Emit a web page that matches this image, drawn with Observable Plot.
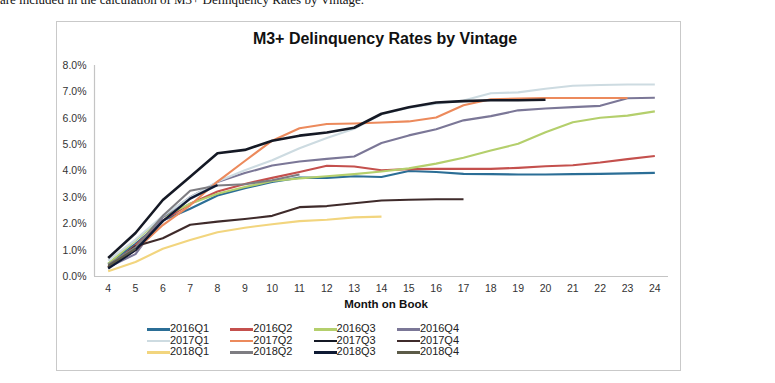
<!DOCTYPE html>
<html>
<head>
<meta charset="utf-8">
<script src="https://cdn.jsdelivr.net/npm/d3@7"></script>
<script src="https://cdn.jsdelivr.net/npm/@observablehq/plot@0.6"></script>
<style>
  html, body { margin: 0; padding: 0; background: #fff; }
  #wrap { position: relative; width: 775px; height: 383px; overflow: hidden; font-family: "Liberation Sans", Arial, sans-serif; }
  #toptext { position: absolute; left: 0; top: -8px; font-family: "Liberation Serif", "Times New Roman", serif; font-size: 13px; color: #111; white-space: nowrap; }
  #frame { position: absolute; left: 56px; top: 21px; width: 623px; height: 348px; border: 1px solid #c9c9c9; }
  #title { position: absolute; left: 85px; width: 600px; top: 30px; text-align: center; font-weight: bold; font-size: 16px; color: #111; }
  #xlabel { position: absolute; left: 56px; width: 660px; top: 298px; text-align: center; font-weight: bold; font-size: 11.5px; color: #111; }
  #chart { position: absolute; left: 0; top: 0; }
  #legend { position: absolute; left: 0; top: 0; }
  .item { position: absolute; height: 12px; font-size: 11px; color: #222; white-space: nowrap; }
  .item .sw { position: absolute; left: 0; top: 5px; width: 23px; height: 2.5px; }
  .item span.t { position: absolute; left: 23px; top: -1px; }
</style>
</head>
<body>
<div id="wrap">
  <div id="toptext">are included in the calculation of M3+ Delinquency Rates by Vintage.</div>
  <div id="frame"></div>
  <div id="title">M3+ Delinquency Rates by Vintage</div>
  <div id="chart"></div>
  <div id="xlabel">Month on Book</div>
  <div id="legend"></div>
</div>
<script>
// Month on book (x categories)
const months = [4,5,6,7,8,9,10,11,12,13,14,15,16,17,18,19,20,21,22,23,24];
const yTicks = [0,1,2,3,4,5,6,7,8];

// Series names and colours
const vintages = ["2016Q1","2016Q2","2016Q3","2016Q4","2017Q1","2017Q2","2017Q3","2017Q4","2018Q1","2018Q2","2018Q3","2018Q4"];
const colors = ["#2b6e96","#c4504d","#b4cf6c","#7b7797","#cddbe1","#ec8a5c","#151925","#3f2b2b","#f2d57e","#7e7d82","#0f1a34","#5c5b48"];

// Delinquency rate (%) per vintage, starting at month 4
const v2016Q1 = [0.48,1.24,2.12,2.57,3.07,3.35,3.58,3.75,3.74,3.80,3.77,4.00,3.96,3.89,3.88,3.87,3.87,3.88,3.89,3.91,3.93];
const v2016Q2 = [0.35,1.18,2.12,2.76,3.22,3.51,3.74,3.96,4.20,4.17,4.03,4.07,4.08,4.08,4.08,4.12,4.18,4.22,4.32,4.45,4.57];
const v2016Q3 = [0.48,1.37,2.25,2.76,3.14,3.39,3.62,3.72,3.80,3.88,3.98,4.10,4.28,4.50,4.78,5.03,5.47,5.85,6.02,6.10,6.26];
const v2016Q4 = [0.35,0.85,2.25,3.01,3.58,3.92,4.21,4.36,4.46,4.55,5.06,5.35,5.58,5.92,6.08,6.30,6.37,6.42,6.47,6.76,6.78];
const v2017Q1 = [0.60,1.40,2.30,3.00,3.60,4.03,4.41,4.86,5.25,5.60,6.15,6.40,6.55,6.67,6.95,6.98,7.12,7.23,7.26,7.28,7.28];
const v2017Q2 = [0.35,1.00,1.95,2.70,3.60,4.38,5.15,5.62,5.78,5.80,5.84,5.88,6.03,6.49,6.72,6.75,6.77,6.77,6.77,6.77];
const v2017Q3 = [0.70,1.65,2.90,3.78,4.67,4.80,5.15,5.34,5.46,5.64,6.17,6.42,6.60,6.65,6.68,6.68,6.70];
const v2017Q4 = [0.35,1.15,1.45,1.96,2.08,2.18,2.30,2.63,2.67,2.78,2.88,2.91,2.93,2.93];
const v2018Q1 = [0.20,0.55,1.05,1.38,1.68,1.85,1.98,2.10,2.15,2.24,2.27];
const v2018Q2 = [0.45,1.10,2.30,3.25,3.45,3.50,3.65,3.87];
const v2018Q3 = [0.30,1.00,2.10,2.95,3.47];
const v2018Q4 = [0.40,1.05];

const seriesValues = [v2016Q1,v2016Q2,v2016Q3,v2016Q4,v2017Q1,v2017Q2,v2017Q3,v2017Q4,v2018Q1,v2018Q2,v2018Q3,v2018Q4];

const rows = [];
seriesValues.forEach((vals, i) => {
  vals.forEach((v, j) => rows.push({vintage: vintages[i], month: months[j], rate: v}));
});

const lineWidth = {"2017Q3": 2.6, "2018Q3": 2.4};

const chart = Plot.plot({
  width: 775,
  height: 383,
  marginLeft: 94,
  marginRight: 107,
  marginTop: 65,
  marginBottom: 107,
  style: {background: "transparent", fontFamily: "'Liberation Sans', Arial, sans-serif", fontSize: "10.5px", color: "#333"},
  x: {type: "linear", domain: [3.5, 24.5]},
  y: {domain: [0, 8]},
  color: {domain: vintages, range: colors},
  marks: [
    Plot.axisX(months, {tickSize: 0, tickPadding: 8, tickFormat: d => String(d), label: null, fontSize: 10.5, fill: "#333"}),
    Plot.axisY(yTicks, {tickSize: 0, tickPadding: 8, tickFormat: d => d.toFixed(1) + "%", label: null, fontSize: 10.5, fill: "#333"}),
    Plot.ruleX([3.5], {y1: 0, y2: 8, stroke: "#c4c4c4", strokeWidth: 1.2}),
    Plot.ruleY([0], {x1: 3.5, x2: 24.5, stroke: "#c4c4c4", strokeWidth: 1.2}),
    ...vintages.map(name => Plot.line(rows.filter(r => r.vintage === name), {
      x: "month", y: "rate", stroke: "vintage",
      strokeWidth: lineWidth[name] || 2.1, strokeLinejoin: "round", strokeLinecap: "butt"
    }))
  ]
});
document.getElementById("chart").appendChild(chart);

// Legend: 4 columns x 3 rows
const legend = document.getElementById("legend");
vintages.forEach((name, i) => {
  const col = i % 4, row = Math.floor(i / 4);
  const el = document.createElement("div");
  el.className = "item";
  el.style.left = (147 + col * 83.3) + "px";
  el.style.top = (323 + row * 11.6) + "px";
  const sw = document.createElement("div");
  sw.className = "sw";
  sw.style.background = colors[i];
  const t = document.createElement("span");
  t.className = "t";
  t.textContent = name;
  el.appendChild(sw);
  el.appendChild(t);
  legend.appendChild(el);
});
</script>
</body>
</html>
